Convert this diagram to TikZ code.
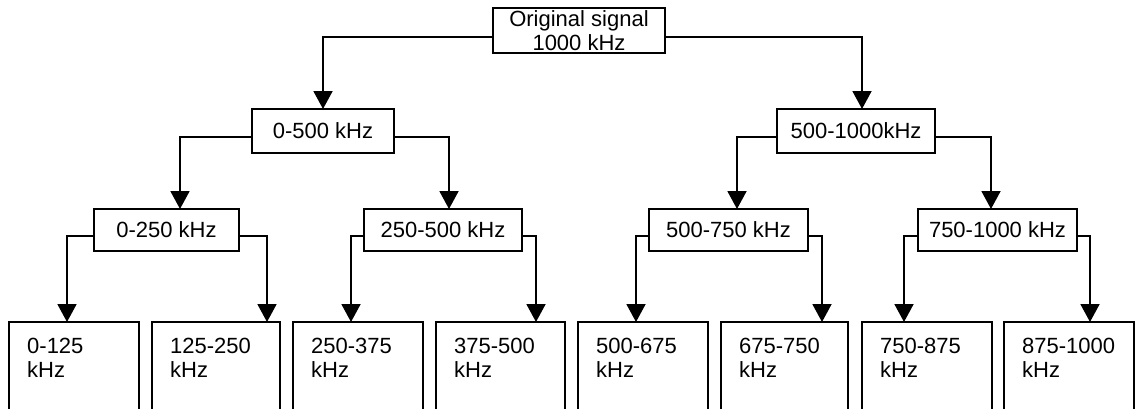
\documentclass[tikz,border=0pt]{standalone}
\usepackage{fontspec}
\setmainfont{Liberation Sans}
\usetikzlibrary{arrows.meta}
\begin{document}
\begin{tikzpicture}[x=1pt,y=-1pt,
  box/.style={draw,line width=1.9pt,inner sep=0pt,outer sep=0pt,font=\fontsize{22}{24.5}\selectfont,align=center},
  leafbox/.style={draw,line width=1.9pt,inner sep=0pt,outer sep=0pt,anchor=north west,minimum height=110pt},
  leaftext/.style={inner sep=0pt,anchor=north west,align=left,font=\fontsize{22}{24}\selectfont},
  arr/.style={line width=1.9pt,-{Triangle[width=19pt,length=18pt]}},
]
\useasboundingbox (0,0) rectangle (1136,408);
\clip (0,0) rectangle (1136,408);
% level 0
\node[box,minimum width=172pt,minimum height=45pt] (top) at (579,30.5) {Original signal\\1000 kHz};
% level 1
\node[box,minimum width=142pt,minimum height=44pt] (b1) at (323,131) {0-500 kHz};
\node[box,minimum width=158pt,minimum height=44pt] (b2) at (856,131) {500-1000kHz};
% level 2
\node[box,minimum width=145pt,minimum height=42pt] (c1) at (166.5,230) {0-250 kHz};
\node[box,minimum width=158pt,minimum height=42pt] (c2) at (443,230) {250-500 kHz};
\node[box,minimum width=159pt,minimum height=42pt] (c3) at (728.5,230) {500-750 kHz};
\node[box,minimum width=159pt,minimum height=42pt] (c4) at (997.5,230) {750-1000 kHz};
% leaves
\node[leafbox,minimum width=130pt] (l1) at (9,322) {};
\node[leafbox,minimum width=128pt] (l2) at (152,322) {};
\node[leafbox,minimum width=130pt] (l3) at (293,322) {};
\node[leafbox,minimum width=129pt] (l4) at (436,322) {};
\node[leafbox,minimum width=130pt] (l5) at (578,322) {};
\node[leafbox,minimum width=127pt] (l6) at (721,322) {};
\node[leafbox,minimum width=130pt] (l7) at (862,322) {};
\node[leafbox,minimum width=130pt] (l8) at (1004,322) {};
\node[leaftext] (t1) at (27,338) {0-125\\kHz};
\node[leaftext] (t2) at (170,338) {125-250\\kHz};
\node[leaftext] (t3) at (311,338) {250-375\\kHz};
\node[leaftext] (t4) at (454,338) {375-500\\kHz};
\node[leaftext] (t5) at (596,338) {500-675\\kHz};
\node[leaftext] (t6) at (739,338) {675-750\\kHz};
\node[leaftext] (t7) at (880,338) {750-875\\kHz};
\node[leaftext] (t8) at (1022,338) {875-1000\\kHz};
% connectors
\draw[arr] ([yshift=-6.5pt]top.west) -| (b1.north);
\draw[arr] ([yshift=-6.5pt]top.east) -| ([xshift=6pt]b2.north);
\draw[arr] ([yshift=-6pt]b1.west) -| ([xshift=13.5pt]c1.north);
\draw[arr] ([yshift=-6pt]b1.east) -| ([xshift=6pt]c2.north);
\draw[arr] ([yshift=-6pt]b2.west) -| ([xshift=8.5pt]c3.north);
\draw[arr] ([yshift=-6pt]b2.east) -| ([xshift=-6.5pt]c4.north);
\draw[arr] ([yshift=-6pt]c1.west) -| ([xshift=-7pt]l1.north);
\draw[arr] ([yshift=-6pt]c1.east) -| ([xshift=51pt]l2.north);
\draw[arr] ([yshift=-6pt]c2.west) -| ([xshift=-7pt]l3.north);
\draw[arr] ([yshift=-6pt]c2.east) -| ([xshift=35.5pt]l4.north);
\draw[arr] ([yshift=-6pt]c3.west) -| ([xshift=-7pt]l5.north);
\draw[arr] ([yshift=-6pt]c3.east) -| ([xshift=37.5pt]l6.north);
\draw[arr] ([yshift=-6pt]c4.west) -| ([xshift=-23pt]l7.north);
\draw[arr] ([yshift=-6pt]c4.east) -| ([xshift=21pt]l8.north);
\end{tikzpicture}
\end{document}
